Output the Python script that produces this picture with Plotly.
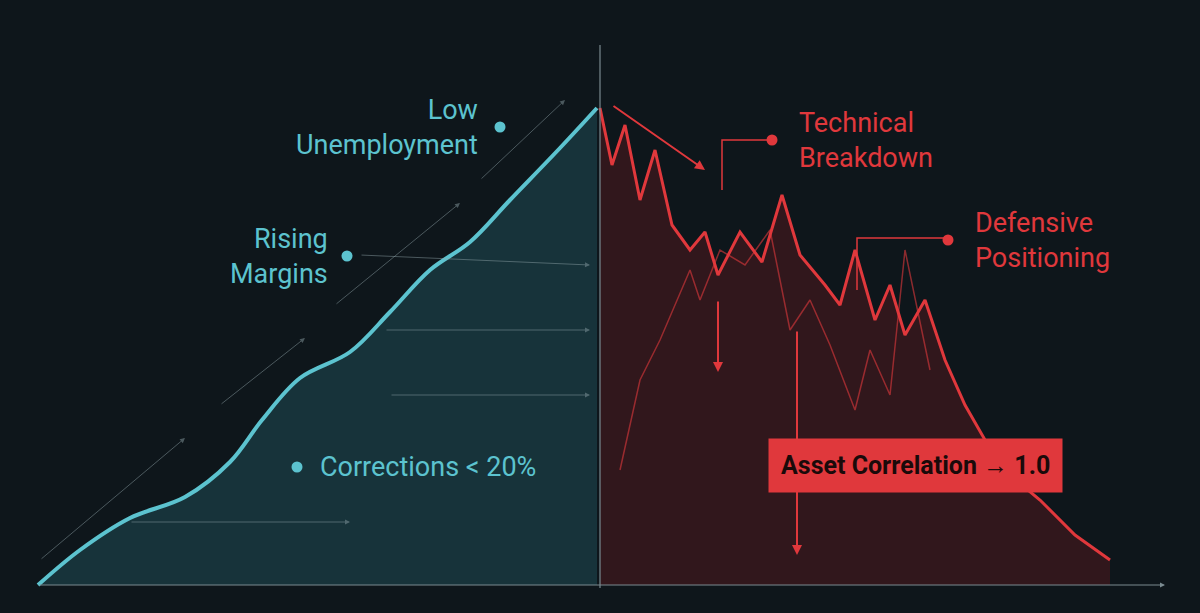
import plotly.graph_objects as go

BASE = 585  # pixel row of the bottom axis
# rising curve (pixel coords of the picture)
bull_x = [38, 80, 130, 185, 230, 262, 300, 350, 390, 430, 470, 510, 560, 597]
bull_py = [585, 550, 518, 497, 462, 420, 378, 352, 312, 270, 242, 200, 148, 108]
# falling jagged line
bear_x = [600, 612, 625, 640, 655, 672, 690, 705, 718, 740, 762, 782, 800, 825, 840, 855, 875, 890, 905, 925, 945, 965, 985, 1010, 1040, 1075, 1110]
bear_py = [108, 165, 125, 200, 150, 225, 250, 232, 275, 232, 262, 195, 255, 285, 305, 250, 320, 285, 335, 300, 360, 405, 440, 475, 500, 535, 560]
bear2_x = [620, 640, 660, 690, 700, 720, 745, 770, 790, 810, 830, 855, 870, 890, 905, 930]
bear2_py = [470, 380, 340, 270, 300, 250, 265, 230, 330, 300, 345, 410, 350, 395, 250, 370]

teal = "#5cc3cf"
red = "#e0383c"
bg = "#0e161b"

def fy(v):
    return [BASE - p for p in v]

fig = go.Figure()
fig.add_trace(go.Scatter(x=bull_x, y=fy(bull_py), mode="lines", line=dict(color=teal, width=4, shape="spline"),
                         fill="tozeroy", fillcolor="rgba(50,140,150,0.25)"))
fig.add_trace(go.Scatter(x=bear_x, y=fy(bear_py), mode="lines", line=dict(color=red, width=3),
                         fill="tozeroy", fillcolor="rgba(140,30,32,0.28)"))
fig.add_trace(go.Scatter(x=bear2_x, y=fy(bear2_py), mode="lines", line=dict(color="rgba(224,56,60,0.6)", width=1.5)))

ann = []
# faint grey guide arrows on the left
for (x0, y0, x1, y1) in [(40, 560, 185, 438), (220, 405, 305, 338), (335, 305, 460, 203), (480, 180, 565, 100),
                         (130, 522, 350, 522), (360, 255, 590, 265), (385, 330, 590, 330), (390, 395, 590, 395)]:
    ann.append(dict(x=x1, y=BASE - y1, ax=x0, ay=BASE - y0, xref="x", yref="y", axref="x", ayref="y",
                    showarrow=True, arrowhead=2, arrowwidth=1, arrowcolor="rgba(150,170,175,0.45)", text=""))
# red down arrows
for (x0, y0, x1, y1) in [(718, 300, 718, 372), (797, 330, 797, 555), (612, 105, 705, 170)]:
    ann.append(dict(x=x1, y=BASE - y1, ax=x0, ay=BASE - y0, xref="x", yref="y", axref="x", ayref="y",
                    showarrow=True, arrowhead=2, arrowwidth=2, arrowcolor=red, text=""))
# axis arrow
ann.append(dict(x=1165, y=0, ax=38, ay=0, xref="x", yref="y", axref="x", ayref="y",
                showarrow=True, arrowhead=2, arrowwidth=1, arrowcolor="#7a8a90", text=""))

labels = [
    ("Low<br>Unemployment", 480, 127, "right", teal, 500),
    ("Rising<br>Margins", 330, 256, "right", teal, 347),
    ("Corrections < 20%", 318, 467, "left", teal, 297),
    ("Technical<br>Breakdown", 797, 140, "left", red, 772),
    ("Defensive<br>Positioning", 973, 240, "left", red, 948),
]
dots_x, dots_y, dots_c = [], [], []
for t, x, y, al, c, dx in labels:
    ann.append(dict(x=x, y=BASE - y, xref="x", yref="y", text=t, showarrow=False, align=al,
                    xanchor=al, font=dict(color=c, size=27, family="Roboto")))
    dots_x.append(dx); dots_y.append(BASE - y); dots_c.append(c)
ann.append(dict(x=915, y=BASE - 465, xref="x", yref="y", text="<b>Asset Correlation → 1.0</b>", showarrow=False,
                bgcolor=red, borderpad=12, font=dict(color="#1a0a0a", size=25, family="Roboto")))

fig.add_trace(go.Scatter(x=dots_x, y=dots_y, mode="markers", marker=dict(color=dots_c, size=11)))

fig.add_shape(type="line", x0=600, x1=600, y0=BASE - 588, y1=BASE - 45, line=dict(color="#7a8a90", width=1.2))
# leader lines for the red labels
fig.add_shape(type="path", path=f"M 772 {BASE-140} L 722 {BASE-140} L 722 {BASE-190}", line=dict(color=red, width=1.5))
fig.add_shape(type="path", path=f"M 948 {BASE-238} L 857 {BASE-238} L 857 {BASE-290}", line=dict(color=red, width=1.5))

fig.update_layout(width=1200, height=613, margin=dict(l=0, r=0, t=0, b=0), showlegend=False,
                  paper_bgcolor=bg, plot_bgcolor=bg, annotations=ann)
fig.update_xaxes(range=[0, 1200], visible=False)
fig.update_yaxes(range=[BASE - 613, BASE], visible=False)
fig.write_html("out.html", config={"displayModeBar": False},
               post_script="document.body.style.margin='0';document.body.style.background='#0e161b';")
